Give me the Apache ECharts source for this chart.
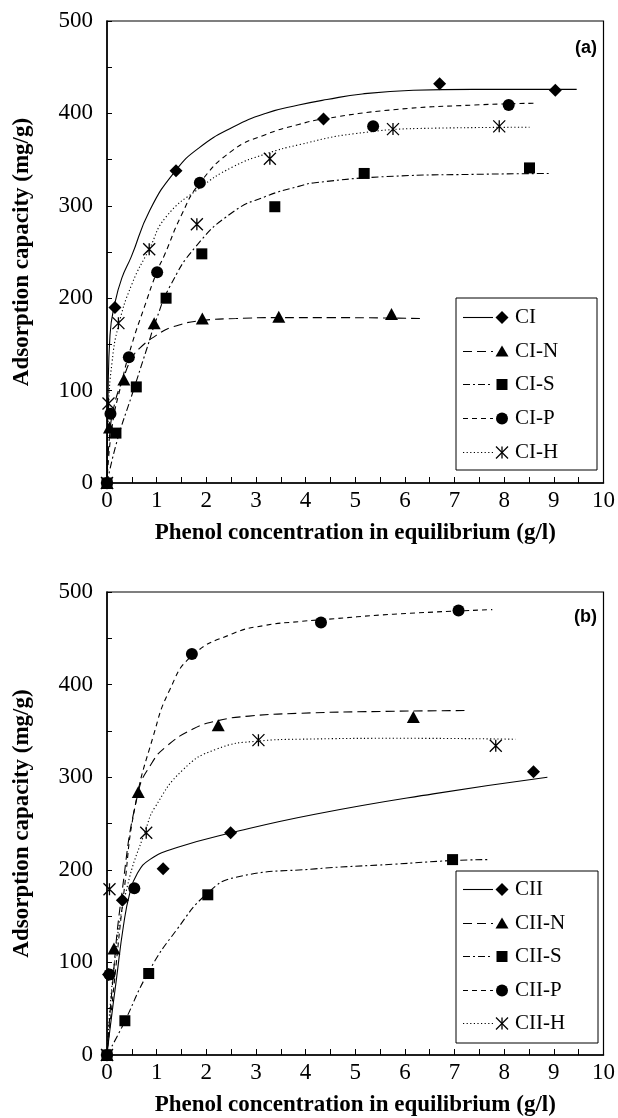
<!DOCTYPE html>
<html>
<head>
<meta charset="utf-8">
<style>
  html, body { margin: 0; padding: 0; background: #fff; }
  #chart { width: 618px; height: 1118px; }
</style>
<script src="https://cdn.jsdelivr.net/npm/echarts@6/dist/echarts.min.js"></script>
</head>
<body>
<div id="chart"></div>
<script>
// series names
var namesA = ["CI", "CI-N", "CI-S", "CI-P", "CI-H"];
var namesB = ["CII", "CII-N", "CII-S", "CII-P", "CII-H"];

// (a) measured points [C, q]
var ptsCI = [[0, 0], [0.16, 190], [1.39, 338], [4.36, 394], [6.70, 432], [9.03, 425]];
var ptsCIN = [[0, 0], [0.05, 60], [0.34, 112], [0.95, 173], [1.92, 178], [3.46, 180], [5.73, 183]];
var ptsCIS = [[0, 0], [0.18, 54], [0.59, 104], [1.19, 200], [1.91, 248], [3.38, 299], [5.18, 335], [8.51, 341]];
var ptsCIP = [[0, 0], [0.07, 75], [0.44, 136], [1.01, 228], [1.87, 325], [5.36, 386], [8.09, 409]];
var ptsCIH = [[0, 0], [0.03, 86], [0.23, 173], [0.85, 253], [1.81, 280], [3.28, 351], [5.76, 383], [7.90, 386]];

// (a) fitted curves
var fitCI = [[0, 0], [0.02, 90], [0.06, 160], [0.16, 195], [0.3, 222], [0.49, 245], [0.86, 295], [1.38, 338],
  [1.86, 363], [2.53, 385], [3.19, 400], [3.86, 409], [4.43, 415], [5.14, 421], [6.17, 425], [7.36, 426], [9.46, 426]];
var fitCIN = [[0, 0], [0.05, 50], [0.15, 85], [0.34, 115], [0.5, 135], [0.66, 146], [1.0, 160], [1.33, 169],
  [1.93, 176], [2.6, 178], [3.46, 179], [4.5, 179], [6.31, 178]];
var fitCIS = [[0, 0], [0.2, 45], [0.5, 95], [0.8, 145], [1.0, 178], [1.26, 212], [1.79, 256], [2.53, 293],
  [3.19, 310], [3.86, 321], [4.19, 325], [5.77, 332], [7.36, 334], [8.9, 335]];
var fitCIP = [[0, 0], [0.1, 60], [0.3, 110], [0.5, 150], [0.75, 190], [1.0, 228], [1.16, 247], [1.5, 290],
  [1.86, 324], [2.53, 360], [3.19, 377], [3.86, 388], [4.36, 394], [5.77, 404], [7.36, 409], [8.59, 411]];
var fitCIH = [[0, 0], [0.03, 80], [0.1, 130], [0.23, 170], [0.5, 215], [0.85, 253], [1.19, 288], [1.86, 319],
  [2.53, 342], [3.19, 356], [3.86, 366], [4.98, 378], [6.57, 384], [8.51, 385]];

// (b) measured points
var ptsCII = [[0, 0], [0.03, 87], [0.31, 167], [1.13, 201], [2.49, 240], [8.59, 306]];
var ptsCIIN = [[0, 0], [0.14, 115], [0.63, 284], [2.24, 356], [6.17, 365]];
var ptsCIIS = [[0, 0], [0.36, 37], [0.84, 88], [2.03, 173], [6.96, 211]];
var ptsCIIP = [[0, 0], [0.05, 87], [0.55, 180], [1.71, 433], [4.31, 467], [7.08, 480]];
var ptsCIIH = [[0, 0], [0.05, 179], [0.79, 240], [3.05, 340], [7.83, 334]];

// (b) fitted curves
var fitCII = [[0, 0], [0.06, 28], [0.19, 82], [0.33, 139], [0.46, 175], [0.6, 195], [0.86, 211], [1.41, 224],
  [2.51, 240], [4.19, 260], [6.57, 282], [8.87, 300]];
var fitCIIN = [[0, 0], [0.1, 70], [0.3, 175], [0.63, 284], [0.9, 315], [1.19, 333], [1.73, 352], [2.23, 361],
  [2.86, 366], [3.86, 369], [5.5, 371], [7.2, 372]];
var fitCIIS = [[0, 0], [0.3, 30], [0.84, 90], [1.4, 135], [2.03, 175], [2.6, 192], [4.19, 201], [5.77, 206],
  [6.96, 210], [7.68, 211]];
var fitCIIP = [[0, 0], [0.15, 80], [0.35, 180], [0.56, 267], [0.93, 344], [1.26, 394], [1.71, 431], [2.53, 455],
  [3.19, 464], [3.86, 468], [4.31, 470], [5.77, 476], [7.76, 481]];
var fitCIIH = [[0, 0], [0.15, 100], [0.4, 180], [0.79, 245], [0.96, 267], [1.53, 308], [2.19, 330], [3.05, 339],
  [3.86, 341], [6, 342], [8.23, 341]];

var ptsA = [ptsCI, ptsCIN, ptsCIS, ptsCIP, ptsCIH];
var fitA = [fitCI, fitCIN, fitCIS, fitCIP, fitCIH];
var ptsB = [ptsCII, ptsCIIN, ptsCIIS, ptsCIIP, ptsCIIH];
var fitB = [fitCII, fitCIIN, fitCIIS, fitCIIP, fitCIIH];

// marker shapes and line dashes, same order as names
var symbols = ["diamond", "triangle", "rect", "circle", "path://M0,0L10,10M10,0L0,10M5,0L5,10"];
var symbolSizes = [13, [13, 12], 11, 12, 12];
var dashes = ["solid", [9, 5], [7, 3, 2, 3], [5, 4], [1.2, 2.4]];

var serif = "Liberation Serif";

function buildSeries(pts, fit, names, idx) {
  var out = [];
  for (var i = 0; i < names.length; i++) {
    out.push({
      name: names[i] + " fit",
      type: "line",
      xAxisIndex: idx,
      yAxisIndex: idx,
      data: fit[i],
      smooth: 0.5,
      showSymbol: false,
      silent: true,
      lineStyle: { color: "#000", width: 1.1, type: dashes[i] },
      z: 2,
    });
    out.push({
      name: names[i],
      type: "scatter",
      xAxisIndex: idx,
      yAxisIndex: idx,
      data: pts[i],
      symbol: symbols[i],
      symbolSize: symbolSizes[i],
      itemStyle: i === 4
        ? { color: "none", borderColor: "#000", borderWidth: 1.3, opacity: 1 }
        : { color: "#000", opacity: 1 },
      z: 3,
    });
  }
  return out;
}

// legend marker drawn with basic graphic shapes
function legendMarker(i, cx, cy) {
  var r = 6;
  if (i === 0) {
    return [{ type: "polygon", shape: { points: [[cx, cy - r - 0.5], [cx + r + 0.5, cy], [cx, cy + r + 0.5], [cx - r - 0.5, cy]] }, style: { fill: "#000" }, z: 11 }];
  }
  if (i === 1) {
    return [{ type: "polygon", shape: { points: [[cx, cy - r], [cx + r + 0.5, cy + r - 1], [cx - r - 0.5, cy + r - 1]] }, style: { fill: "#000" }, z: 11 }];
  }
  if (i === 2) {
    return [{ type: "rect", shape: { x: cx - 5.5, y: cy - 5.5, width: 11, height: 11 }, style: { fill: "#000" }, z: 11 }];
  }
  if (i === 3) {
    return [{ type: "circle", shape: { cx: cx, cy: cy, r: r }, style: { fill: "#000" }, z: 11 }];
  }
  var st = { stroke: "#000", lineWidth: 1.3 };
  return [
    { type: "line", shape: { x1: cx - r, y1: cy - r, x2: cx + r, y2: cy + r }, style: st, z: 11 },
    { type: "line", shape: { x1: cx + r, y1: cy - r, x2: cx - r, y2: cy + r }, style: st, z: 11 },
    { type: "line", shape: { x1: cx, y1: cy - r, x2: cx, y2: cy + r }, style: st, z: 11 },
  ];
}

// legend drawn as a box with line sample, marker and label
function buildLegend(names, left, top, right, bottom, firstY, gap) {
  var els = [{
    type: "rect",
    shape: { x: left, y: top, width: right - left, height: bottom - top },
    style: { fill: "#fff", stroke: "#000", lineWidth: 1 },
    z: 10,
  }];
  for (var i = 0; i < names.length; i++) {
    var cy = Math.round(firstY + i * gap) + 0.5;
    els.push({
      type: "line",
      shape: { x1: left + 7, y1: cy, x2: left + 37, y2: cy },
      style: { stroke: "#000", lineWidth: 1.1, lineDash: dashes[i] === "solid" ? null : dashes[i] },
      z: 11,
    });
    els = els.concat(legendMarker(i, left + 46, cy));
    els.push({
      type: "text",
      x: left + 59, y: cy,
      style: { text: names[i], font: "21px '" + serif + "'", fill: "#000", verticalAlign: "middle" },
      z: 11,
    });
  }
  return els;
}

function xAxisOf(idx) {
  return {
    gridIndex: idx,
    type: "value",
    min: 0, max: 10, interval: 1,
    name: "Phenol concentration in equilibrium (g/l)",
    nameLocation: "middle",
    nameGap: 39,
    nameTextStyle: { fontFamily: serif, fontWeight: "bold", fontSize: 23, color: "#000" },
    axisLine: { lineStyle: { color: "#000", width: 1.5 } },
    axisTick: { inside: true, length: 6, lineStyle: { color: "#000" } },
    minorTick: { show: true, splitNumber: 2, length: 6, lineStyle: { color: "#000" } },
    splitLine: { show: false },
    axisLabel: { fontFamily: serif, fontSize: 23, color: "#000", margin: 6 },
  };
}

function yAxisOf(idx) {
  return {
    gridIndex: idx,
    type: "value",
    min: 0, max: 500, interval: 100,
    name: "Adsorption capacity (mg/g)",
    nameLocation: "middle",
    nameGap: 73,
    nameTextStyle: { fontFamily: serif, fontWeight: "bold", fontSize: 23, color: "#000" },
    axisLine: { lineStyle: { color: "#000", width: 1.5 } },
    axisTick: { inside: true, length: 5, lineStyle: { color: "#000" } },
    minorTick: { show: true, splitNumber: 2, length: 5, lineStyle: { color: "#000" } },
    splitLine: { show: false },
    axisLabel: { fontFamily: serif, fontSize: 23, color: "#000", margin: 14 },
  };
}

var myChart = echarts.init(document.getElementById("chart"));
var option = {
  animation: false,
  backgroundColor: "#fff",
  grid: [
    { left: 107, right: 11, top: 21, height: 462, show: true, borderColor: "#000", borderWidth: 1.2 },
    { left: 107, right: 11, top: 592, height: 464, show: true, borderColor: "#000", borderWidth: 1.2 },
  ],
  xAxis: [xAxisOf(0), xAxisOf(1)],
  yAxis: [yAxisOf(0), yAxisOf(1)],
  series: buildSeries(ptsA, fitA, namesA, 0).concat(buildSeries(ptsB, fitB, namesB, 1)),
  graphic: buildLegend(namesA, 456, 298, 597, 470, 317, 33.7)
    .concat(buildLegend(namesB, 456, 871, 598, 1043, 889, 33.6))
    .concat([
      { type: "text", x: 597, y: 48, style: { text: "(a)", font: "bold 18px 'Liberation Sans'", fill: "#000", align: "right", verticalAlign: "middle" } },
      { type: "text", x: 597, y: 617, style: { text: "(b)", font: "bold 18px 'Liberation Sans'", fill: "#000", align: "right", verticalAlign: "middle" } },
    ]),
};

option && myChart.setOption(option);
</script>
</body>
</html>
